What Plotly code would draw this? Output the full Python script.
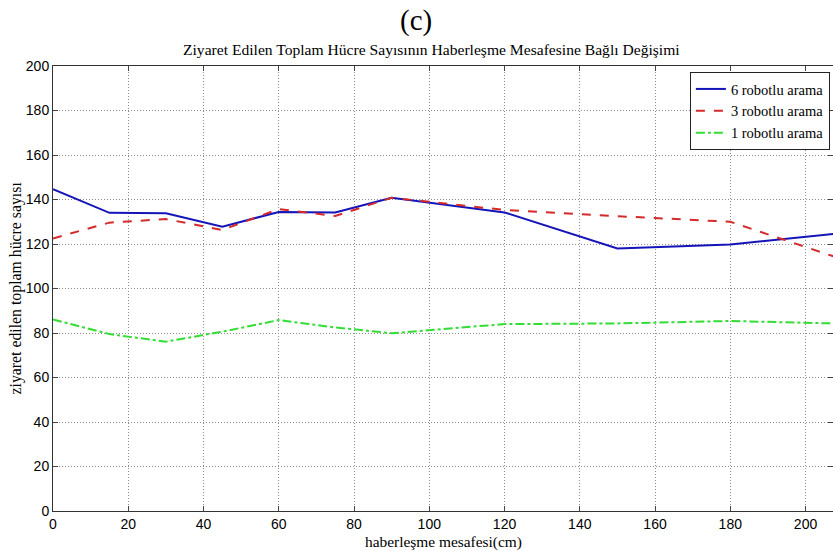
import plotly.graph_objects as go

x = [0, 15, 30, 45, 60, 75, 90, 120, 150, 180, 210]
robot6 = [144.6, 134.0, 133.8, 127.8, 134.4, 134.2, 140.8, 134.2, 118.0, 119.8, 125.0]
robot3 = [122.5, 129.6, 131.2, 126.3, 135.7, 132.6, 140.8, 135.3, 132.5, 130.0, 113.0]
robot1 = [86.1, 79.5, 76.1, 80.6, 85.8, 82.5, 79.9, 84.0, 84.3, 85.4, 84.2]

names = ["6 robotlu arama", "3 robotlu arama", "1 robotlu arama"]
xticks = [0, 20, 40, 60, 80, 100, 120, 140, 160, 180, 200]
yticks = [0, 20, 40, 60, 80, 100, 120, 140, 160, 180, 200]

serif = "Liberation Serif, Times New Roman, serif"
sans = "Liberation Sans, Arial, sans-serif"

fig = go.Figure()
fig.add_trace(go.Scatter(x=x, y=robot6, mode="lines", name=names[0],
                         line=dict(color="#1414b8", width=2, dash="solid")))
fig.add_trace(go.Scatter(x=x, y=robot3, mode="lines", name=names[1],
                         line=dict(color="#d42a2a", width=2, dash="dash")))
fig.add_trace(go.Scatter(x=x, y=robot1, mode="lines", name=names[2],
                         line=dict(color="#33dd33", width=2, dash="dashdot")))

axis_common = dict(
    showline=True, linecolor="#333333", linewidth=1, mirror="ticks",
    ticks="inside", ticklen=5, tickcolor="#444444",
    showgrid=True, gridcolor="#8c8c8c", griddash="1px,2px", gridwidth=1,
    zeroline=False, tickfont=dict(family=sans, size=14, color="black"),
)

fig.update_layout(
    width=833, height=551,
    margin=dict(l=53, r=0, t=66, b=40),
    paper_bgcolor="white", plot_bgcolor="white",
    showlegend=True,
    legend=dict(x=0.996, y=0.9865, xanchor="right", yanchor="top",
                bgcolor="white", bordercolor="#222222", borderwidth=1,
                font=dict(family=serif, size=14.5, color="black"),
                tracegroupgap=0, itemwidth=30),
    xaxis=dict(range=[0, 207.3], tickvals=xticks, **axis_common),
    yaxis=dict(range=[0, 200], tickvals=yticks, **axis_common),
    annotations=[
        dict(text="(c)", x=0.465, y=1.103, xref="paper", yref="paper",
             xanchor="center", yanchor="middle", showarrow=False,
             font=dict(family=serif, size=29, color="black")),
        dict(text="Ziyaret Edilen Toplam Hücre Sayısının Haberleşme Mesafesine Bağlı Değişimi",
             x=0.485, y=1.036, xref="paper", yref="paper",
             xanchor="center", yanchor="middle", showarrow=False,
             font=dict(family=serif, size=15.6, color="black")),
        dict(text="haberleşme mesafesi(cm)", x=0.5, y=-0.069, xref="paper", yref="paper",
             xanchor="center", yanchor="middle", showarrow=False,
             font=dict(family=serif, size=15.4, color="black")),
        dict(text="ziyaret edilen toplam hücre sayısı", x=-0.0487, y=0.5, xref="paper", yref="paper",
             xanchor="center", yanchor="middle", showarrow=False, textangle=-90,
             font=dict(family=serif, size=15.8, color="black")),
    ],
)

fig.write_html("out.html", config={"displayModeBar": False},
               post_script="document.body.style.margin='0';")
